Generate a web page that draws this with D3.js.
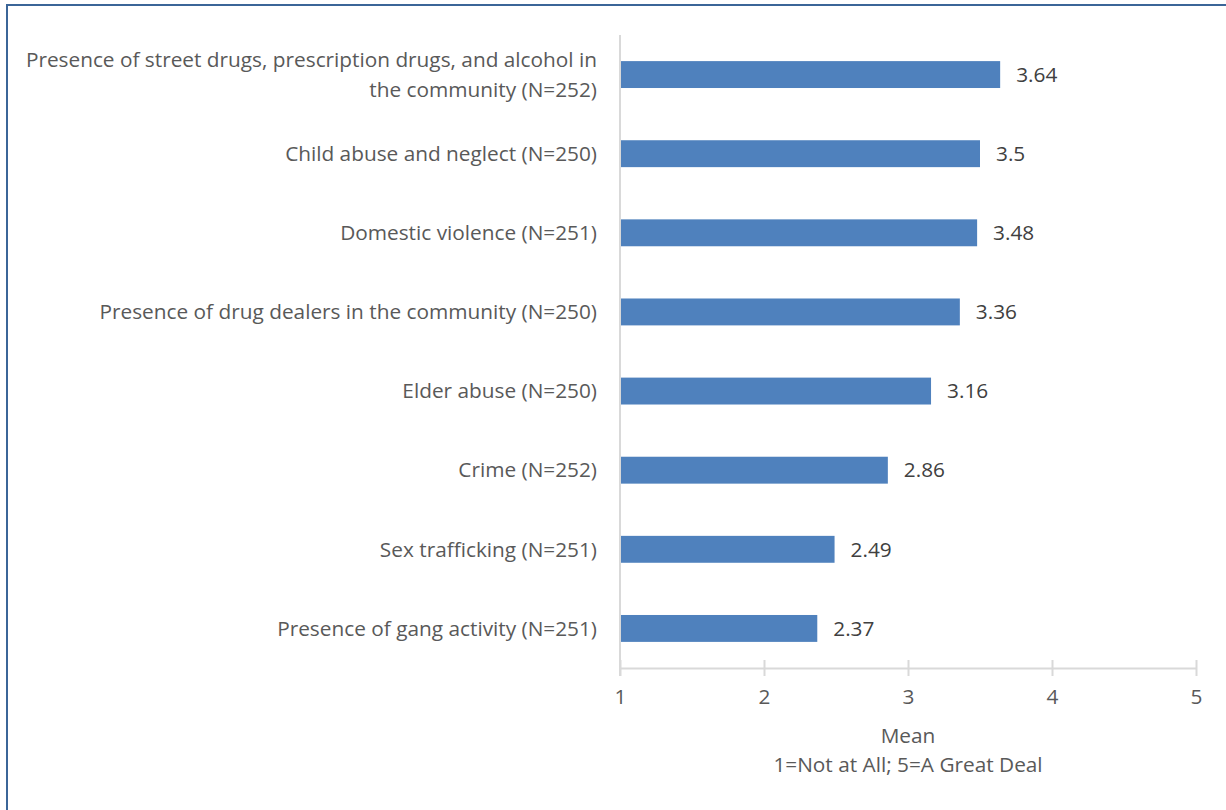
<!DOCTYPE html>
<html>
<head>
<meta charset="utf-8">
<script src="https://cdn.jsdelivr.net/npm/d3@7"></script>
<style>
  body { margin: 0; background: #fff; }
  text { font-family: "Open Sans", "Noto Sans", sans-serif; }
</style>
</head>
<body>
<div id="chart"></div>
<script>
var categories = [
    ["Presence of street drugs, prescription drugs, and alcohol in", "the community (N=252)"],
    ["Child abuse and neglect (N=250)"],
    ["Domestic violence (N=251)"],
    ["Presence of drug dealers in the community (N=250)"],
    ["Elder abuse (N=250)"],
    ["Crime (N=252)"],
    ["Sex trafficking (N=251)"],
    ["Presence of gang activity (N=251)"]
];
var means = [3.64, 3.5, 3.48, 3.36, 3.16, 2.86, 2.49, 2.37];
var xTicks = [1, 2, 3, 4, 5];

var width = 1226, height = 810,
    margin = {left: 620, right: 30, top: 35, bottom: 142},
    fontSize = "20.8px";

var svg = d3.select("#chart").append("svg")
    .attr("width", width)
    .attr("height", height);

// frame border (left and top visible)
svg.append("path")
    .attr("d", "M7,810 L7,5 L1226,5")
    .attr("fill", "none")
    .attr("stroke", "#3b6598")
    .attr("stroke-width", 2);

var x = d3.scaleLinear().domain([1, 5]).range([620, 1196]);
var y = d3.scaleBand()
    .domain(d3.range(means.length))
    .range([margin.top, height - margin.bottom])
    .paddingInner(0.66)
    .paddingOuter(0.33);

var axisY = height - margin.bottom;

// vertical category axis line
svg.append("line")
    .attr("x1", x(1)).attr("x2", x(1))
    .attr("y1", margin.top).attr("y2", axisY + 8)
    .attr("stroke", "#d9d9d9").attr("stroke-width", 2);

// horizontal value axis
var xAxis = svg.append("g")
    .attr("transform", "translate(0," + axisY + ")")
    .call(d3.axisBottom(x).tickValues(xTicks).tickSize(0).tickPadding(21).tickFormat(d3.format("d")));
xAxis.select(".domain").attr("stroke", "#d9d9d9").attr("stroke-width", 2);
xAxis.selectAll(".tick line").remove();
xAxis.selectAll(".tick").append("line")
    .attr("y1", -8).attr("y2", 8)
    .attr("stroke", "#d9d9d9").attr("stroke-width", 2);
xAxis.selectAll(".tick text")
    .attr("fill", "#595959")
    .style("font-size", fontSize);

// bars
svg.selectAll(".bar")
    .data(means)
    .enter().append("rect")
    .attr("class", "bar")
    .attr("x", x(1) + 1)
    .attr("y", function(d, i) { return y(i); })
    .attr("width", function(d) { return x(d) - x(1) - 1; })
    .attr("height", y.bandwidth())
    .attr("fill", "#4f81bd");

// value labels
svg.selectAll(".val")
    .data(means)
    .enter().append("text")
    .attr("class", "val")
    .attr("x", function(d) { return x(d) + 16; })
    .attr("y", function(d, i) { return y(i) + y.bandwidth() / 2; })
    .attr("dy", "0.35em")
    .attr("fill", "#404040")
    .style("font-size", fontSize)
    .text(function(d) { return d; });

// category labels
var cat = svg.selectAll(".cat")
    .data(categories)
    .enter().append("text")
    .attr("class", "cat")
    .attr("text-anchor", "end")
    .attr("fill", "#595959")
    .style("font-size", fontSize)
    .attr("transform", function(d, i) {
        return "translate(597," + (y(i) + y.bandwidth() / 2) + ")";
    });
cat.selectAll("tspan")
    .data(function(d) { return d; })
    .enter().append("tspan")
    .attr("x", 0)
    .attr("dy", function(t, j, nodes) {
        var n = nodes.length;
        return j === 0 ? (0.35 - (n - 1) * 0.72) + "em" : "1.44em";
    })
    .text(function(t) { return t; });

// axis title
var title = svg.append("text")
    .attr("text-anchor", "middle")
    .attr("fill", "#595959")
    .style("font-size", fontSize)
    .attr("transform", "translate(" + x(3) + "," + (axisY + 75) + ")");
title.append("tspan").attr("x", 0).attr("dy", 0).text("Mean");
title.append("tspan").attr("x", 0).attr("dy", "1.4em").text("1=Not at All; 5=A Great Deal");
</script>
</body>
</html>
